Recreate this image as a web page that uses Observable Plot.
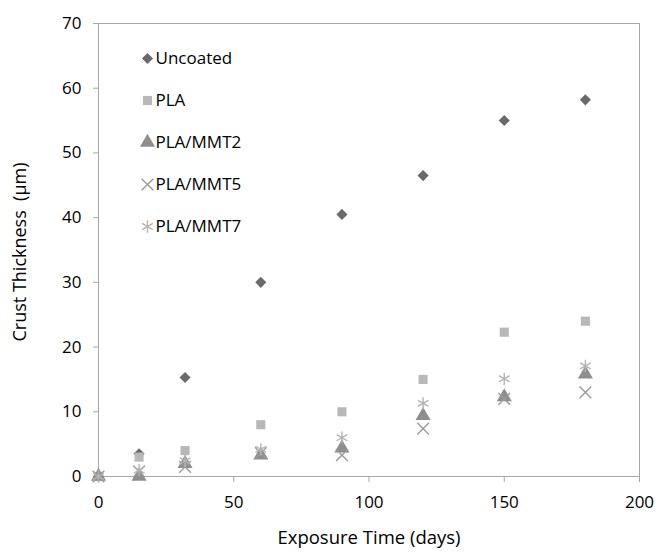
<!DOCTYPE html>
<html>
<head>
<meta charset="utf-8">
<script src="https://cdn.jsdelivr.net/npm/d3@7"></script>
<script src="https://cdn.jsdelivr.net/npm/@observablehq/plot@0.6"></script>
<style>
  html, body { margin: 0; padding: 0; background: #fff; }
  svg { font-family: "Open Sans", sans-serif; }
</style>
</head>
<body>
<div id="chart"></div>
<script>
const days = [0, 15, 32, 60, 90, 120, 150, 180];
const uncoated = [0, 3.5, 15.3, 30, 40.5, 46.5, 55, 58.2];
const pla = [0, 3, 4, 8, 10, 15, 22.3, 24];
const plaMmt2 = [0, 0, 2, 3.3, 4.4, 9.4, 12.3, 15.8];
const plaMmt5 = [0, 0.8, 1.5, 3.6, 3.3, 7.4, 12, 13];
const plaMmt7 = [0, 1, 2.4, 4.2, 6, 11.3, 15.1, 17.1];
const seriesNames = ["Uncoated", "PLA", "PLA/MMT2", "PLA/MMT5", "PLA/MMT7"];
const yTicks = [0, 10, 20, 30, 40, 50, 60, 70];
const xTicks = [0, 50, 100, 150, 200];

const styles = [
  {symbol: "diamond2", r: 5, fill: "#6a6a6a"},
  {symbol: "square2", r: 5.8, fill: "#b8b8b8"},
  {symbol: "triangle2", r: 7.2, fill: "#8e8e8e"},
  {symbol: "times", r: 5.4, stroke: "#9a9a9a"},
  {symbol: "asterisk", r: 5.8, stroke: "#b4b4b4"}
];
const allValues = [uncoated, pla, plaMmt2, plaMmt5, plaMmt7];

function dotOpts(st, extra) {
  const o = {symbol: st.symbol, r: st.r, ...extra};
  if (st.fill) { o.fill = st.fill; o.stroke = "none"; }
  else { o.stroke = st.stroke; o.strokeWidth = 1.4; o.fill = "none"; }
  return o;
}

const marks = [
  Plot.frame({stroke: "#a8a8a8"}),
  Plot.axisY({ticks: yTicks, tickSize: 5, tickPadding: 12, stroke: "#a8a8a8", color: "#000", fill: "#000", fontSize: 17, label: null}),
  Plot.axisX({ticks: xTicks, tickSize: 6, tickPadding: 13, stroke: "#a8a8a8", color: "#000", fill: "#000", fontSize: 17, label: null}),
  Plot.text(["Crust Thickness  (µm)"], {frameAnchor: "left", dx: -78, dy: 2, rotate: -90, textAnchor: "middle", lineAnchor: "middle", fontSize: 18, fill: "#000"}),
  Plot.text(["Exposure Time (days)"], {frameAnchor: "bottom", dy: 62, textAnchor: "middle", lineAnchor: "middle", fontSize: 18.5, fill: "#000"})
];

// series drawn in order (later series on top, as in the reference)
allValues.forEach((vals, i) => {
  const data = days.map((d, j) => ({day: d, value: vals[j]}));
  marks.push(Plot.dot(data, dotOpts(styles[i], {x: "day", y: "value"})));
});

// legend inside the frame
seriesNames.forEach((name, i) => {
  marks.push(Plot.dot([name], dotOpts(styles[i], {frameAnchor: "top-left", dx: 49, dy: 35 + i * 42})));
  marks.push(Plot.text([name], {frameAnchor: "top-left", dx: 57, dy: 35 + i * 42, text: d => d, textAnchor: "start", lineAnchor: "middle", fontSize: 17, fill: "#000"}));
});

const chart = Plot.plot({
  width: 657,
  height: 552,
  marginLeft: 98,
  marginRight: 18,
  marginTop: 23,
  marginBottom: 76,
  style: {fontFamily: "'Open Sans', sans-serif", background: "#fff"},
  x: {domain: [0, 200]},
  y: {domain: [0, 70]},
  marks
});
document.getElementById("chart").appendChild(chart);
</script>
</body>
</html>
